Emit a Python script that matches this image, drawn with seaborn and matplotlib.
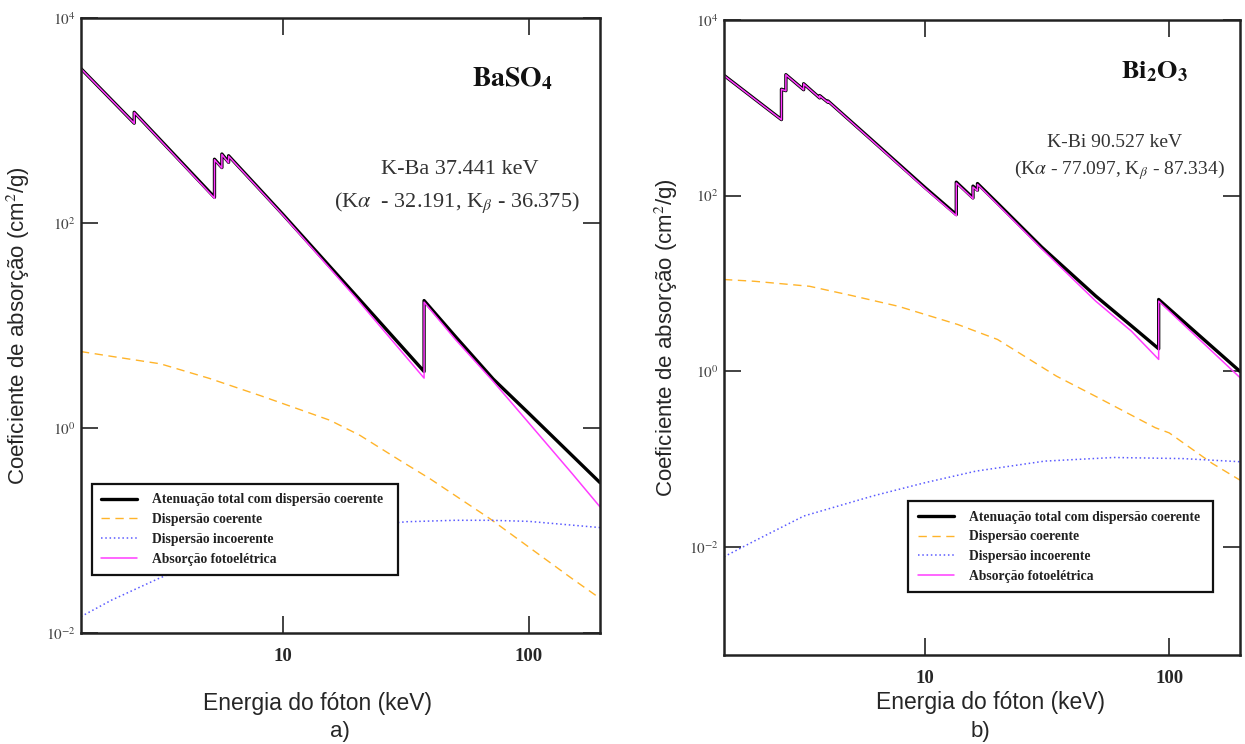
import matplotlib
matplotlib.use("Agg")
import matplotlib.pyplot as plt
import seaborn as sns

# ── BaSO4 (panel a), energies in keV ─────────────────────────────────────────
baso4_total_e = [1.5, 2.472, 2.472, 5.247, 5.247, 5.624, 5.624, 5.989, 5.989,
                 8.0, 10.0, 20.0, 37.44, 37.44, 50.0, 71.6, 100.0, 150.0, 195.0]
baso4_total = [3200, 940, 1200, 178, 418, 347, 470, 390, 452,
               214, 120, 19.0, 3.56, 17.5, 7.9, 3.0, 1.39, 0.54, 0.293]
baso4_photo = [3190, 935, 1195, 174, 414, 343, 466, 386, 448,
               211, 118, 18.0, 3.07, 16.9, 7.4, 2.85, 1.12, 0.36, 0.17]

baso4_coh_e = [1.5, 2.0, 3.16, 5.0, 8.07, 12.0, 15.5, 20.5, 30.0, 39.6,
               69.3, 100.0, 150.0, 195.0]
baso4_coh = [5.57, 5.0, 4.23, 3.05, 2.07, 1.48, 1.19, 0.85, 0.48, 0.32,
             0.131, 0.069, 0.034, 0.0218]

baso4_inc_e = [1.5, 2.0, 3.1, 5.0, 10.0, 20.0, 31.8, 50.0, 70.0, 100.0, 150.0, 195.0]
baso4_inc = [0.0145, 0.021, 0.034, 0.055, 0.085, 0.11, 0.122, 0.126, 0.126,
             0.123, 0.113, 0.107]

# ── Bi2O3 (panel b) ───────────────────────────────────────────────────────────
bi2o3_total_e = [1.5, 2.58, 2.58, 2.69, 2.69, 3.18, 3.18, 3.70, 3.70, 4.00, 4.00,
                 6.0, 10.0, 13.42, 13.42, 15.71, 15.71, 16.39, 16.39, 20.0, 30.0,
                 50.0, 70.0, 90.53, 90.53, 130.0, 195.0]
bi2o3_total = [2330, 731, 1620, 1560, 2370, 1600, 1870, 1290, 1370, 1150, 1190,
               437, 123, 60.8, 142, 94, 128, 115, 137, 79.6, 26.0,
               7.2, 3.3, 1.81, 6.58, 2.7, 1.0]
bi2o3_photo = [2320, 728, 1615, 1555, 2365, 1595, 1865, 1285, 1365, 1145, 1185,
               432, 120, 59.0, 139, 92, 125, 113, 134, 77.0, 24.9,
               6.3, 2.87, 1.37, 6.3, 2.45, 0.85]

bi2o3_coh_e = [1.5, 2.0, 3.36, 5.0, 7.78, 13.6, 19.8, 34.5, 50.0, 87.7, 100.0, 150.0, 195.0]
bi2o3_coh = [11.1, 10.6, 9.3, 7.3, 5.5, 3.42, 2.31, 0.885, 0.52, 0.229, 0.20, 0.09, 0.058]

bi2o3_inc_e = [1.5, 2.0, 3.19, 6.1, 10.0, 16.2, 30.9, 59.3, 114.0, 195.0]
bi2o3_inc = [0.0078, 0.0118, 0.0227, 0.0383, 0.0543, 0.0736, 0.0955, 0.105, 0.102, 0.094]

labels = ["Atenuação total com dispersão coerente", "Dispersão coerente",
          "Dispersão incoerente", "Absorção fotoelétrica"]
ytick_vals = [1e-2, 1e0, 1e2, 1e4]
ytick_txt = [r"$10^{-2}$", r"$10^{0}$", r"$10^{2}$", r"$10^{4}$"]

sns.set_style("ticks")
plt.rcParams["font.family"] = ["Liberation Sans", "DejaVu Sans"]
plt.rcParams["mathtext.fontset"] = "stix"
SERIF = ["Liberation Serif", "DejaVu Serif"]

C_TOT, C_COH, C_INC, C_PHO = "black", "#ffb42a", "#5a5aff", "#ff3cff"


def draw_panel(ax, tot_e, tot, pho, coh_e, coh, inc_e, inc, ylim, leg_box):
    h_coh = sns.lineplot(x=coh_e, y=coh, ax=ax, color=C_COH, lw=1.0,
                         linestyle=(0, (6, 4)), estimator=None, sort=False).lines[-1]
    h_inc = sns.lineplot(x=inc_e, y=inc, ax=ax, color=C_INC, lw=1.1,
                         linestyle=(0, (1, 1.8)), estimator=None, sort=False).lines[-1]
    h_tot = sns.lineplot(x=tot_e, y=tot, ax=ax, color=C_TOT, lw=2.4,
                         estimator=None, sort=False).lines[-1]
    h_pho = sns.lineplot(x=tot_e, y=pho, ax=ax, color=C_PHO, lw=1.1,
                         estimator=None, sort=False).lines[-1]

    ax.set_xscale("log")
    ax.set_yscale("log")
    ax.set_xlim(1.5, 195)
    ax.set_ylim(*ylim)

    ax.set_xticks([10, 100])
    ax.set_xticklabels(["10", "100"], fontweight="bold", family=SERIF, fontsize=13.5)
    ax.set_yticks(ytick_vals)
    ax.set_yticklabels(ytick_txt, fontsize=11, color="#444")
    ax.minorticks_off()
    ax.tick_params(which="major", direction="in", length=12, width=1.2,
                   top=True, right=True, color="#222")
    ax.tick_params(axis="x", pad=11)
    ax.tick_params(axis="y", pad=4)
    for sp in ax.spines.values():
        sp.set_linewidth(1.8)
        sp.set_color("#222")

    leg = ax.legend([h_tot, h_coh, h_inc, h_pho], labels, loc="lower left",
                    bbox_to_anchor=leg_box, mode="expand", borderaxespad=0,
                    fancybox=False, framealpha=1, edgecolor="#111",
                    handlelength=2.65, handletextpad=1.1, labelspacing=0.5,
                    borderpad=0.7,
                    prop={"family": SERIF, "weight": "bold", "size": 9.8})
    leg.get_frame().set_linewidth(1.6)
    for t in leg.get_texts():
        t.set_color("#222")
    ax.set_xlabel("Energia do fóton (keV)", fontsize=16.5)
    ax.set_ylabel("Coeficiente de absorção (cm$^2$/g)", fontsize=16)


fig = plt.figure(figsize=(12.45, 7.44), dpi=100)
ax1 = fig.add_axes([0.065, 0.149, 0.417, 0.827])
ax2 = fig.add_axes([0.5815, 0.12, 0.4145, 0.8535])

draw_panel(ax1, baso4_total_e, baso4_total, baso4_photo, baso4_coh_e, baso4_coh,
           baso4_inc_e, baso4_inc, (1e-2, 1e4), (0.021, 0.094, 0.59, 0.15))
draw_panel(ax2, bi2o3_total_e, bi2o3_total, bi2o3_photo, bi2o3_coh_e, bi2o3_coh,
           bi2o3_inc_e, bi2o3_inc, (6e-4, 1e4), (0.357, 0.098, 0.591, 0.15))

ax1.xaxis.set_label_coords(0.455, -0.095)
ax1.yaxis.set_label_coords(-0.094, 0.5)
ax2.xaxis.set_label_coords(0.516, -0.057)
ax2.yaxis.set_label_coords(-0.085, 0.5)

ax1.text(0.832, 0.902, r"$\mathbf{BaSO_4}$", transform=ax1.transAxes,
         ha="center", va="center", fontsize=20, color="#111")
ax1.text(0.730, 0.753, "K-Ba 37.441 keV", transform=ax1.transAxes, ha="center",
         va="center", fontsize=16, family=SERIF, color="#333")
ax1.text(0.724, 0.699, r"(K$\alpha$  - 32.191, K$_{\beta}$ - 36.375)",
         transform=ax1.transAxes, ha="center", va="center", fontsize=16,
         family=SERIF, color="#333")

ax2.text(0.835, 0.918, r"$\mathbf{Bi_2O_3}$", transform=ax2.transAxes,
         ha="center", va="center", fontsize=19, color="#111")
ax2.text(0.756, 0.806, "K-Bi 90.527 keV", transform=ax2.transAxes, ha="center",
         va="center", fontsize=14, family=SERIF, color="#333")
ax2.text(0.767, 0.764, r"(K$\alpha$ - 77.097, K$_{\beta}$ - 87.334)",
         transform=ax2.transAxes, ha="center", va="center", fontsize=14,
         family=SERIF, color="#333")

fig.text(340 / 1245, 1 - 731 / 744, "a)", ha="center", va="center", fontsize=16)
fig.text(980 / 1245, 1 - 731 / 744, "b)", ha="center", va="center", fontsize=16)

fig.savefig("out.png", dpi=100)
plt.close(fig)
